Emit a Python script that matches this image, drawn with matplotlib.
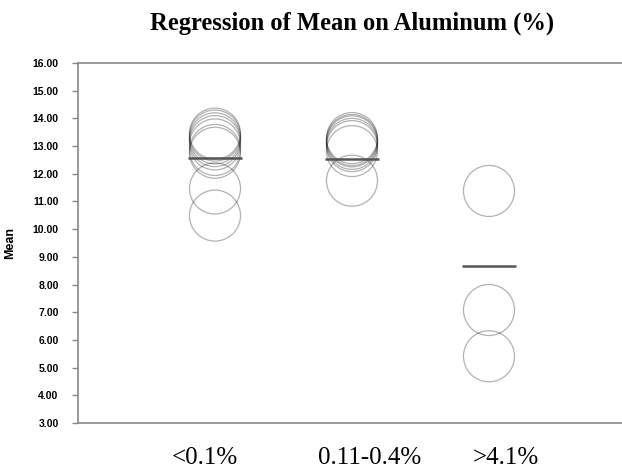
import matplotlib.pyplot as plt

# data
categories = ['<0.1%', '0.11-0.4%', '>4.1%']
group_low = [13.45, 13.38, 13.28, 13.18, 13.06, 12.86, 12.76, 11.47, 10.49]
group_mid = [13.29, 13.22, 13.17, 13.08, 13.0, 12.82, 11.75]
group_high = [11.38, 7.08, 5.41]
fitted = [12.57, 12.52, 8.68]

groups = [group_low, group_mid, group_high]

fig = plt.figure(figsize=(6.22, 4.71), dpi=100)
ax = fig.add_axes([0.1254, 0.1019, 0.881, 0.7643])

# circles for each observation
for i, vals in enumerate(groups):
    ax.scatter([i + 1] * len(vals), vals, s=1350, facecolors='none',
               edgecolors=(0, 0, 0, 0.3), linewidths=0.9, zorder=2)

# fitted value per group
for i, v in enumerate(fitted):
    ax.plot([i + 1 - 0.2, i + 1 + 0.2], [v, v], color='#555555', lw=1.8,
            solid_capstyle='butt', zorder=3)

ax.set_xlim(0, 4)
ax.set_ylim(3, 16)
ax.set_yticks(range(3, 17))
ax.set_yticklabels(['%.2f' % t for t in range(3, 17)],
                   fontfamily='Liberation Sans', fontweight='bold', fontsize=7.5)
# category labels sit a bit off the circle columns in the original
ax.set_xticks([0.927, 2.13, 3.12])
ax.set_xticklabels(categories, fontfamily='Liberation Serif', fontsize=18)
ax.tick_params(axis='x', length=0, pad=17)
ax.tick_params(axis='y', length=4, width=1, color='#888888', pad=10)

for side in ['left', 'bottom', 'top']:
    ax.spines[side].set_color('#888888')
    ax.spines[side].set_linewidth(1.2)
ax.spines['right'].set_visible(False)

ax.set_ylabel('Mean', fontfamily='Liberation Sans', fontweight='bold',
              fontsize=9, labelpad=12)
ax.set_title('Regression of Mean on Aluminum (%)', fontfamily='Liberation Serif',
             fontweight='bold', fontsize=17.7, pad=24)

plt.savefig('out.png', dpi=100)
